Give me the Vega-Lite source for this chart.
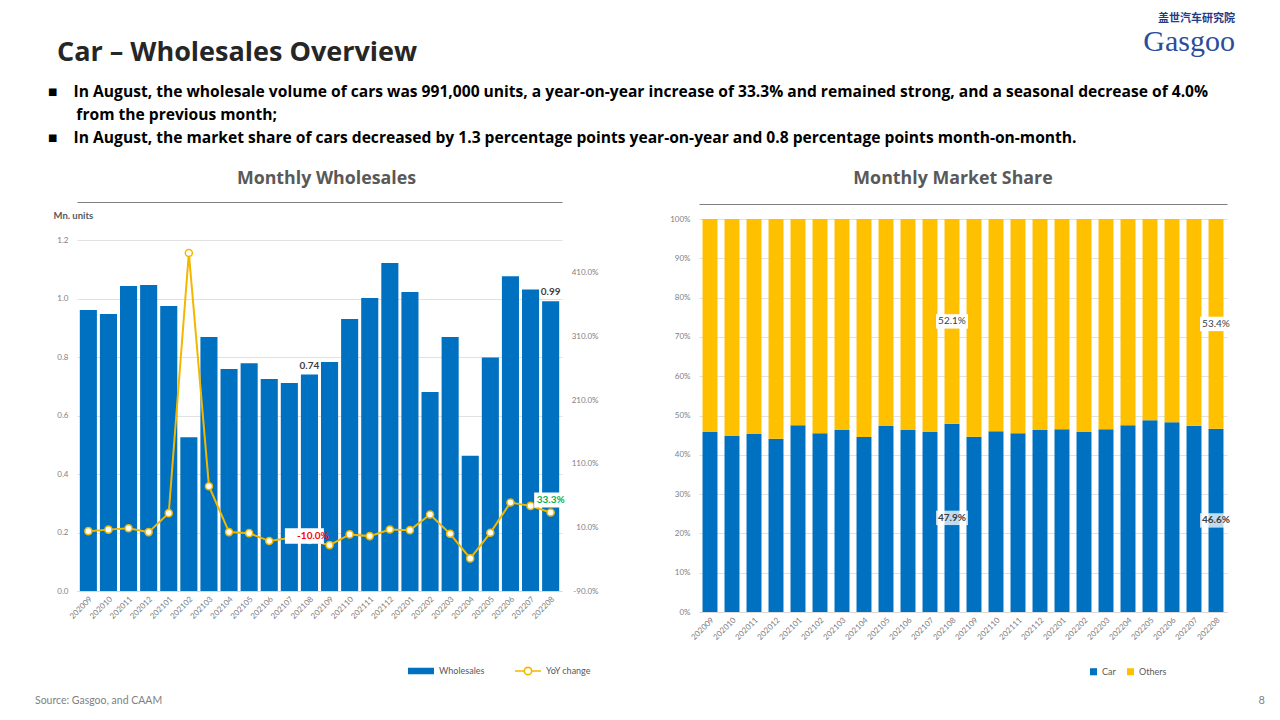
{
  "$schema": "https://vega.github.io/schema/vega-lite/v6.json",
  "padding": {"left": 35, "top": 12, "right": 5, "bottom": 5},
  "background": "white",
  "config": {
    "font": "Lato",
    "view": {"stroke": null},
    "locale": {"number": {"decimal": ".", "thousands": ",", "grouping": [3], "currency": ["$", ""], "minus": "-"}},
    "axis": {"labelFont": "Lato", "labelColor": "#808080", "labelFontSize": 8, "ticks": false, "domain": false, "gridColor": "#D9D9D9", "gridWidth": 0.8},
    "legend": {"labelFont": "Lato", "labelFontSize": 9, "labelColor": "#595959", "direction": "horizontal", "title": null}
  },
  "datasets": {
    "d": [
      {"month": "202009", "wholesales": 0.961, "yoy": 0.040, "Car": 0.458, "Others": 0.542},
      {"month": "202010", "wholesales": 0.947, "yoy": 0.064, "Car": 0.448, "Others": 0.552},
      {"month": "202011", "wholesales": 1.043, "yoy": 0.087, "Car": 0.453, "Others": 0.547},
      {"month": "202012", "wholesales": 1.046, "yoy": 0.025, "Car": 0.441, "Others": 0.559},
      {"month": "202101", "wholesales": 0.974, "yoy": 0.323, "Car": 0.475, "Others": 0.525},
      {"month": "202102", "wholesales": 0.526, "yoy": 4.41, "Car": 0.455, "Others": 0.545},
      {"month": "202103", "wholesales": 0.868, "yoy": 0.746, "Car": 0.463, "Others": 0.537},
      {"month": "202104", "wholesales": 0.759, "yoy": 0.025, "Car": 0.445, "Others": 0.555},
      {"month": "202105", "wholesales": 0.779, "yoy": 0.009, "Car": 0.473, "Others": 0.527},
      {"month": "202106", "wholesales": 0.725, "yoy": -0.116, "Car": 0.463, "Others": 0.537},
      {"month": "202107", "wholesales": 0.711, "yoy": -0.069, "Car": 0.458, "Others": 0.542},
      {"month": "202108", "wholesales": 0.740, "yoy": -0.100, "Car": 0.479, "Others": 0.521},
      {"month": "202109", "wholesales": 0.783, "yoy": -0.179, "Car": 0.446, "Others": 0.554},
      {"month": "202110", "wholesales": 0.930, "yoy": -0.011, "Car": 0.460, "Others": 0.540},
      {"month": "202111", "wholesales": 1.002, "yoy": -0.038, "Car": 0.455, "Others": 0.545},
      {"month": "202112", "wholesales": 1.121, "yoy": 0.067, "Car": 0.463, "Others": 0.537},
      {"month": "202201", "wholesales": 1.022, "yoy": 0.056, "Car": 0.465, "Others": 0.535},
      {"month": "202202", "wholesales": 0.680, "yoy": 0.302, "Car": 0.458, "Others": 0.542},
      {"month": "202203", "wholesales": 0.868, "yoy": -0.002, "Car": 0.465, "Others": 0.535},
      {"month": "202204", "wholesales": 0.462, "yoy": -0.388, "Car": 0.475, "Others": 0.525},
      {"month": "202205", "wholesales": 0.798, "yoy": 0.014, "Car": 0.488, "Others": 0.512},
      {"month": "202206", "wholesales": 1.076, "yoy": 0.490, "Car": 0.483, "Others": 0.517},
      {"month": "202207", "wholesales": 1.031, "yoy": 0.437, "Car": 0.474, "Others": 0.526},
      {"month": "202208", "wholesales": 0.991, "yoy": 0.333, "Car": 0.466, "Others": 0.534}
    ]
  },
  "data": {"name": "d"},
  "title": {"text": "盖世汽车研究院", "subtitle": "Gasgoo", "anchor": "end", "fontSize": 11, "fontWeight": "bold", "color": "#1F3C88", "font": "Noto Sans CJK SC", "subtitleFont": "Liberation Serif", "subtitleFontSize": 30, "subtitleColor": "#2B4C9B", "subtitlePadding": 3, "offset": -18, "dx": -30},
  "vconcat": [
    {
      "title": {"text": "Car – Wholesales Overview", "anchor": "start", "font": "Open Sans", "fontSize": 27, "fontWeight": "bold", "color": "#262626", "dx": 22, "offset": 18},
      "vconcat": [
        {
          "title": {
            "text": [
              "■\u00a0\u00a0\u00a0\u00a0In August, the wholesale volume of cars was 991,000 units, a year-on-year increase of 33.3% and remained strong, and a seasonal decrease of 4.0%",
              "\u200b\u00a0\u00a0\u00a0\u00a0\u00a0\u00a0\u00a0from the previous month;",
              "■\u00a0\u00a0\u00a0\u00a0In August, the market share of cars decreased by 1.3 percentage points year-on-year and 0.8 percentage points month-on-month."
            ],
            "anchor": "start", "font": "Open Sans", "fontSize": 15.6, "fontWeight": "bold", "color": "#000000", "lineHeight": 23, "dx": 13, "offset": 24
          },
          "vconcat": [
            {
              "title": {"text": "8", "orient": "bottom", "anchor": "end", "fontSize": 11, "fontWeight": "normal", "color": "#7F7F7F", "offset": -12, "dx": 33},
              "vconcat": [
                {
                  "title": {"text": "Source: Gasgoo, and CAAM", "orient": "bottom", "anchor": "start", "fontSize": 10.5, "fontWeight": "normal", "color": "#7F7F7F", "dx": -18, "offset": 18},
                  "spacing": 71,
                  "resolve": {
                    "scale": {"color": "independent", "fill": "independent", "stroke": "independent"},
                    "legend": {"color": "independent", "fill": "independent", "stroke": "independent"}
                  },
                  "hconcat": [
                    {
                      "width": 485,
                      "height": 372,
                      "title": {"text": "Monthly Wholesales", "font": "Open Sans", "fontSize": 17.8, "fontWeight": "bold", "color": "#595959", "offset": 14, "dx": 7, "anchor": "middle"},
                      "resolve": {"scale": {"y": "independent"}, "axis": {"x": "independent", "y": "independent"}},
                      "layer": [
                        {
                          "layer": [
                            {
                              "mark": {"type": "bar"},
                              "encoding": {
                                "x": {"field": "month", "type": "nominal", "sort": null, "scale": {"paddingInner": 0.15, "paddingOuter": 0.14},
                                      "axis": {"orient": "bottom", "title": null, "labelAngle": -45, "domain": true, "domainColor": "#D9D9D9", "labelPadding": 4}},
                                "y": {"field": "wholesales", "type": "quantitative", "scale": {"domain": [0, 1.2718], "nice": false, "zero": false},
                                      "axis": {"values": [0, 0.2, 0.4, 0.6, 0.8, 1, 1.2], "format": ".1f", "title": "Mn. units", "titleAngle": 0, "titleAlign": "left", "titleBaseline": "middle", "titleX": -24, "titleY": -4, "titleFontSize": 9.5, "titleColor": "#595959", "titleFontWeight": "bold", "labelPadding": 9, "grid": true}},
                                "fill": {"datum": "Wholesales", "scale": {"range": ["#0070C0"]}, "legend": {"orient": "none", "legendX": 330, "legendY": 438, "symbolType": "M-1,-0.25H1V0.25H-1Z", "symbolSize": 676}}
                              }
                            },
                            {
                              "transform": [{"filter": "datum.month == '202108' || datum.month == '202208'"}],
                              "mark": {"type": "text", "fontWeight": "bold", "fontSize": 10, "color": "#404040", "baseline": "bottom", "dy": -4},
                              "encoding": {
                                "x": {"field": "month", "type": "nominal", "sort": null},
                                "y": {"field": "wholesales", "type": "quantitative"},
                                "text": {"field": "wholesales", "format": ".2f"}
                              }
                            }
                          ]
                        },
                        {
                          "layer": [
                            {
                              "mark": {"type": "line", "strokeWidth": 2},
                              "encoding": {
                                "x": {"field": "month", "type": "nominal", "sort": null,
                                      "axis": {"orient": "top", "labels": false, "title": null, "domain": true, "domainColor": "#7F7F7F", "domainWidth": 1.2, "offset": 17, "grid": false}},
                                "y": {"field": "yoy", "type": "quantitative", "scale": {"domain": [-0.9, 4.943], "nice": false, "zero": false},
                                      "axis": {"orient": "right", "values": [-0.9, 0.1, 1.1, 2.1, 3.1, 4.1], "format": ".1%", "grid": false, "labelAlign": "right", "labelPadding": 36, "title": null}},
                                "stroke": {"datum": "YoY change", "scale": {"range": ["#F2B800"]}, "legend": {"orient": "none", "legendX": 437, "legendY": 438, "symbolType": "M-1,0H-0.28M0.28,0H1M-0.28,0A0.28,0.28,0,1,1,0.28,0A0.28,0.28,0,1,1,-0.28,0Z", "symbolFillColor": "white", "symbolStrokeWidth": 1.6, "symbolSize": 676}}
                              }
                            },
                            {
                              "mark": {"type": "point", "filled": true, "fill": "white", "stroke": "#F2B800", "strokeWidth": 1.5, "size": 50, "opacity": 1},
                              "encoding": {
                                "x": {"field": "month", "type": "nominal", "sort": null},
                                "y": {"field": "yoy", "type": "quantitative"}
                              }
                            },
                            {
                              "transform": [{"filter": "datum.month == '202108'"}],
                              "mark": {"type": "point", "shape": "M-1,-0.4H1V0.4H-1Z", "filled": true, "color": "white", "opacity": 1, "size": 1521},
                              "encoding": {
                                "x": {"field": "month", "type": "nominal", "sort": null},
                                "y": {"field": "yoy", "type": "quantitative"},
                                "xOffset": {"value": 3.5},
                                "yOffset": {"value": -4}
                              }
                            },
                            {
                              "transform": [{"filter": "datum.month == '202208'"}],
                              "mark": {"type": "point", "shape": "M-1,-0.45H1V0.45H-1Z", "filled": true, "color": "white", "opacity": 1, "size": 1089},
                              "encoding": {
                                "x": {"field": "month", "type": "nominal", "sort": null},
                                "y": {"field": "yoy", "type": "quantitative"},
                                "yOffset": {"value": -12.5}
                              }
                            },
                            {
                              "transform": [{"filter": "datum.month == '202108'"}],
                              "mark": {"type": "text", "fontWeight": "bold", "fontSize": 10, "color": "#FF0000", "baseline": "middle", "dx": 3.5, "dy": -4},
                              "encoding": {
                                "x": {"field": "month", "type": "nominal", "sort": null},
                                "y": {"field": "yoy", "type": "quantitative"},
                                "text": {"field": "yoy", "format": ".1%"}
                              }
                            },
                            {
                              "transform": [{"filter": "datum.month == '202208'"}],
                              "mark": {"type": "text", "fontWeight": "bold", "fontSize": 10, "color": "#00B050", "baseline": "middle", "dy": -12.5},
                              "encoding": {
                                "x": {"field": "month", "type": "nominal", "sort": null},
                                "y": {"field": "yoy", "type": "quantitative"},
                                "text": {"field": "yoy", "format": ".1%"}
                              }
                            }
                          ]
                        }
                      ]
                    },
                    {
                      "width": 528,
                      "height": 393,
                      "title": {"text": "Monthly Market Share", "font": "Open Sans", "fontSize": 17.8, "fontWeight": "bold", "color": "#595959", "offset": 16, "dx": -10, "anchor": "middle"},
                      "transform": [{"fold": ["Car", "Others"], "as": ["series", "share"]}],
                      "resolve": {"scale": {"y": "independent"}, "axis": {"x": "independent", "y": "independent"}},
                      "layer": [
                        {
                          "mark": {"type": "bar"},
                          "encoding": {
                            "x": {"field": "month", "type": "nominal", "sort": null, "scale": {"paddingInner": 0.32, "paddingOuter": 0.16},
                                  "axis": {"orient": "bottom", "title": null, "labelAngle": -45, "domain": true, "domainColor": "#D9D9D9", "labelPadding": 4}},
                            "y": {"field": "share", "type": "quantitative", "stack": "zero", "scale": {"domain": [0, 1], "nice": false},
                                  "axis": {"values": [0, 0.1, 0.2, 0.3, 0.4, 0.5, 0.6, 0.7, 0.8, 0.9, 1], "format": ".0%", "title": null, "grid": true, "labelPadding": 9}},
                            "color": {"field": "series", "type": "nominal", "scale": {"domain": ["Car", "Others"], "range": ["#0070C0", "#FFC000"]}, "legend": {"orient": "none", "legendX": 390, "legendY": 448, "symbolType": "square", "symbolSize": 50}},
                            "order": {"field": "series", "sort": "ascending"}
                          }
                        },
                        {
                          "transform": [{"filter": "datum.series == 'Car' && (datum.month == '202108' || datum.month == '202208')"}],
                          "layer": [
                            {
                              "mark": {"type": "point", "shape": "M-1,-0.45H1V0.45H-1Z", "filled": true, "color": "white", "opacity": 0.75, "size": 1024},
                              "encoding": {
                                "x": {"field": "month", "type": "nominal", "sort": null,
                                      "axis": {"orient": "top", "labels": false, "title": null, "domain": true, "domainColor": "#7F7F7F", "domainWidth": 1.2, "offset": 15, "grid": false}},
                                "y": {"field": "share", "type": "quantitative", "scale": {"domain": [0, 2], "nice": false}, "axis": null}
                              }
                            },
                            {
                              "mark": {"type": "text", "fontWeight": "bold", "fontSize": 10, "color": "#404040", "baseline": "middle"},
                              "encoding": {
                                "x": {"field": "month", "type": "nominal", "sort": null},
                                "y": {"field": "share", "type": "quantitative"},
                                "text": {"field": "share", "format": ".1%"}
                              }
                            }
                          ]
                        },
                        {
                          "transform": [{"filter": "datum.series == 'Others' && (datum.month == '202108' || datum.month == '202208')"}],
                          "layer": [
                            {
                              "mark": {"type": "point", "shape": "M-1,-0.45H1V0.45H-1Z", "filled": true, "color": "white", "opacity": 1, "size": 1024},
                              "encoding": {
                                "x": {"field": "month", "type": "nominal", "sort": null, "axis": null},
                                "y": {"field": "share", "type": "quantitative", "scale": {"domain": [0, 2], "reverse": true, "nice": false}, "axis": null}
                              }
                            },
                            {
                              "mark": {"type": "text", "fontSize": 10, "color": "#404040", "baseline": "middle"},
                              "encoding": {
                                "x": {"field": "month", "type": "nominal", "sort": null},
                                "y": {"field": "share", "type": "quantitative"},
                                "text": {"field": "share", "format": ".1%"}
                              }
                            }
                          ]
                        }
                      ]
                    }
                  ]
                }
              ]
            }
          ]
        }
      ]
    }
  ]
}
